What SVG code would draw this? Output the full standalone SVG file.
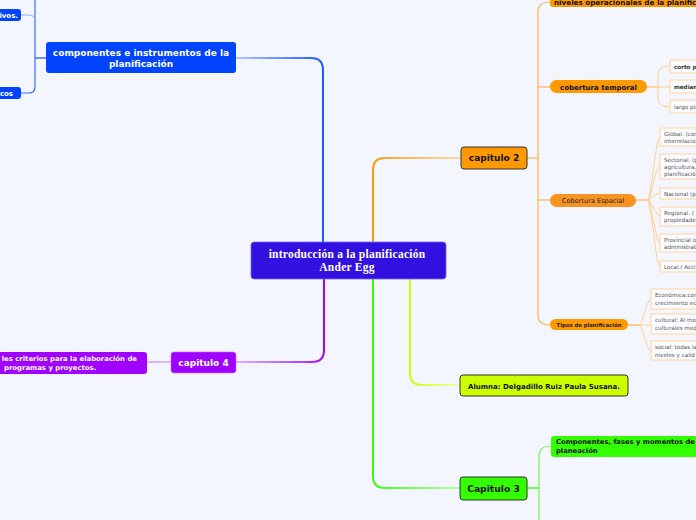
<svg xmlns="http://www.w3.org/2000/svg" width="696" height="520" viewBox="0 0 696 520">
<defs>
<style>
.s{font-family:"DejaVu Sans","Liberation Sans",sans-serif}
.b{font-weight:bold}
.c{text-anchor:middle}
.sub{fill:#fbfcff;stroke:#ffd49a;stroke-width:1}
.st{font-size:5.6px;fill:#555}
.fan{fill:none;stroke:#ffd08a;stroke-width:1}
.or{fill:none;stroke:#ffb44a;stroke-width:1.2}
</style>
<linearGradient id="gBlue" gradientUnits="userSpaceOnUse" x1="323" y1="0" x2="236" y2="0"><stop offset="0" stop-color="#1a5cff"/><stop offset="0.2" stop-color="#3a70ff"/><stop offset="1" stop-color="#b3c8ff"/></linearGradient>
<linearGradient id="gOr" gradientUnits="userSpaceOnUse" x1="373" y1="0" x2="461" y2="0"><stop offset="0" stop-color="#ff9900"/><stop offset="0.2" stop-color="#ffab3a"/><stop offset="1" stop-color="#ffd9a3"/></linearGradient>
<linearGradient id="gPu" gradientUnits="userSpaceOnUse" x1="324" y1="0" x2="236" y2="0"><stop offset="0" stop-color="#a000ff"/><stop offset="0.2" stop-color="#b53aff"/><stop offset="1" stop-color="#e0b0ff"/></linearGradient>
<linearGradient id="gGr" gradientUnits="userSpaceOnUse" x1="373" y1="0" x2="460" y2="0"><stop offset="0" stop-color="#33ff00"/><stop offset="0.2" stop-color="#55ff33"/><stop offset="1" stop-color="#b8ffa8"/></linearGradient>
<linearGradient id="gYe" gradientUnits="userSpaceOnUse" x1="410" y1="0" x2="460" y2="0"><stop offset="0" stop-color="#ccff00"/><stop offset="0.3" stop-color="#d8ff3a"/><stop offset="1" stop-color="#eeffb0"/></linearGradient>
</defs>
<rect width="696" height="520" fill="#f3f6fe"/>

<g id="connectors">
<path d="M323 242 V70 Q323 58 311 58 H236" fill="none" stroke="url(#gBlue)" stroke-width="2"/>
<path d="M373 242 V170 Q373 158 385 158 H461" fill="none" stroke="url(#gOr)" stroke-width="2"/>
<path d="M324 279 V350 Q324 362 312 362 H236" fill="none" stroke="url(#gPu)" stroke-width="2"/>
<path d="M373 279 V476 Q373 488 385 488 H460" fill="none" stroke="url(#gGr)" stroke-width="2"/>
<path d="M410 279 V373 Q410 385 422 385 H460" fill="none" stroke="url(#gYe)" stroke-width="2"/>
<path d="M46 58 H35" fill="none" stroke="#3a70ff" stroke-width="1.5"/>
<path d="M35 0 V87 Q35 93 29 93 H21" fill="none" stroke="#3a70ff" stroke-width="1.2"/>
<path d="M21 15 H29 Q35 15 35 21" fill="none" stroke="#8fb0ff" stroke-width="1.2"/>
<path d="M171 362 H147" fill="none" stroke="#c58aff" stroke-width="1.2"/>
<path d="M527 158 H538" class="or" stroke-width="1.5"/>
<path d="M550 2 Q538 2 538 12 V315 Q538 325 550 325" class="or"/>
<path d="M538 87 H550" class="or"/>
<path d="M538 200 H550" class="or"/>
<path d="M647 87 H658" fill="none" stroke="#ffbf66" stroke-width="1.2"/>
<path d="M670 66 Q658 66 658 74 V99 Q658 107 670 107" class="fan"/>
<path d="M658 87 H670" class="fan"/>
<path d="M636 200 H648" fill="none" stroke="#ffb44a" stroke-width="1.2"/>
<path d="M648 200 C652 190 656 137 660 137" class="fan"/>
<path d="M648 200 C652 194 656 166 660 166" class="fan"/>
<path d="M648 200 C652 198 656 193 660 193" class="fan"/>
<path d="M648 200 C652 202 656 216 660 216" class="fan"/>
<path d="M648 200 C652 206 656 243 660 243" class="fan"/>
<path d="M648 200 C652 210 656 266 660 266" class="fan"/>
<path d="M628 325 H640" fill="none" stroke="#ffb44a" stroke-width="1.2"/>
<path d="M640 325 C644 318 647 299 651 299" class="fan"/>
<path d="M640 325 H651" class="fan"/>
<path d="M640 325 C644 332 647 351 651 351" class="fan"/>
<path d="M527 488 H539" fill="none" stroke="#44ff11" stroke-width="1.5"/>
<path d="M551 446 Q539 446 539 456 V520" fill="none" stroke="#6cff44" stroke-width="1.2"/>
</g>

<g id="central">
<rect x="251" y="242" width="195" height="37" rx="3" fill="#3210e0" stroke="#7a66ff" stroke-width="0.8"/>
<text x="347" y="258" class="c" font-family="Liberation Serif,serif" font-weight="bold" font-size="11.5" letter-spacing="0.25" fill="#fff">introducción a la planificación</text>
<text x="347" y="270.5" class="c" font-family="Liberation Serif,serif" font-weight="bold" font-size="11.5" letter-spacing="0.25" fill="#fff">Ander Egg</text>
</g>

<g id="componentes">
<rect x="46" y="42" width="190" height="31" rx="3" fill="#0044ff"/>
<text x="141" y="56" class="s b c" font-size="9" fill="#fff">componentes e instrumentos de la</text>
<text x="141" y="67" class="s b c" font-size="9" fill="#fff">planificación</text>
</g>
<g id="objetivos">
<rect x="-20" y="9" width="41" height="12" rx="3" fill="#0044ff"/>
<text x="18" y="18" class="s b" font-size="7" fill="#fff" text-anchor="end">ivos.</text>
</g>
<g id="tecnicos">
<rect x="-20" y="87" width="41" height="12" rx="3" fill="#0044ff"/>
<text x="13" y="96" class="s b" font-size="7" fill="#fff" text-anchor="end">cos</text>
</g>

<g id="capitulo4">
<rect x="171" y="352" width="65" height="21" rx="3" fill="#a000ff" stroke="#c070ff" stroke-width="0.6"/>
<text x="203.5" y="366" class="s b c" font-size="9" fill="#fff">capitulo 4</text>
</g>
<g id="criterios">
<rect x="-40" y="352" width="187" height="22" rx="3" fill="#a000ff"/>
<text x="137" y="361" class="s b" font-size="6.9" fill="#fff" text-anchor="end">les criterios para la elaboración de</text>
<text x="4" y="370" class="s b" font-size="6.9" fill="#fff">programas y proyectos.</text>
</g>

<g id="capitulo2">
<rect x="461" y="147" width="66" height="22" rx="3" fill="#ff9900" stroke="#333" stroke-width="1"/>
<text x="494" y="161" class="s b c" font-size="9" fill="#111">capitulo 2</text>
</g>
<g id="niveles">
<rect x="550" y="-14" width="180" height="21" rx="3" fill="#ff9900"/>
<text x="554" y="4.5" class="s b" font-size="7.2" fill="#111">niveles operacionales de la planificación</text>
</g>
<g id="cobertura-temporal">
<rect x="550" y="80" width="97" height="13" rx="6.5" fill="#ff9900"/>
<text x="598.5" y="89.5" class="s b c" font-size="7" fill="#111">cobertura temporal</text>
</g>
<g id="corto">
<rect x="670" y="60" width="60" height="13" class="sub"/>
<text x="674" y="69" class="s b" font-size="5.6" fill="#333">corto plazo</text>
</g>
<g id="mediano">
<rect x="670" y="80" width="60" height="13" class="sub"/>
<text x="674" y="89" class="s b" font-size="5.6" fill="#333">mediano plazo</text>
</g>
<g id="largo">
<rect x="670" y="100" width="60" height="13" class="sub"/>
<text x="674" y="109" class="s" font-size="5.6" fill="#555">largo plazo</text>
</g>

<g id="cobertura-espacial">
<rect x="550" y="194" width="86" height="13" rx="6.5" fill="#f7931e"/>
<text x="593" y="203" class="s c" font-size="6.6" fill="#222">Cobertura Espacial</text>
</g>
<g id="global">
<rect x="660" y="128" width="60" height="18" class="sub"/>
<text x="664" y="136" class="s st">Global. (con</text>
<text x="664" y="143" class="s st">interrelacio</text>
</g>
<g id="sectorial">
<rect x="660" y="154" width="60" height="25" class="sub"/>
<text x="664" y="162" class="s st">Sectorial. (p</text>
<text x="664" y="169" class="s st">agricultura,</text>
<text x="664" y="176" class="s st">planificació</text>
</g>
<g id="nacional">
<rect x="660" y="188" width="60" height="11" class="sub"/>
<text x="664" y="195.5" class="s st">Nacional (p</text>
</g>
<g id="regional">
<rect x="660" y="207" width="60" height="19" class="sub"/>
<text x="664" y="215" class="s st">Regional. (</text>
<text x="664" y="222" class="s st">propiedade</text>
</g>
<g id="provincial">
<rect x="660" y="234" width="60" height="18" class="sub"/>
<text x="664" y="242" class="s st">Provincial o</text>
<text x="664" y="249" class="s st">administrat</text>
</g>
<g id="local">
<rect x="660" y="261" width="60" height="11" class="sub"/>
<text x="664" y="268.5" class="s st">Local.( Acci</text>
</g>

<g id="tipos">
<rect x="550" y="319" width="78" height="11" rx="5.5" fill="#ff9900"/>
<text x="589" y="327" class="s b c" font-size="5.3" fill="#222">Tipos de planificación</text>
</g>
<g id="economica">
<rect x="651" y="289" width="60" height="20" class="sub"/>
<text x="655" y="297" class="s st">Económica:con</text>
<text x="655" y="305" class="s st">crecimiento ec</text>
</g>
<g id="cultural">
<rect x="651" y="314" width="60" height="20" class="sub"/>
<text x="655" y="322" class="s st">cultural: Al mo</text>
<text x="655" y="330" class="s st">culturales med</text>
</g>
<g id="social">
<rect x="651" y="341" width="60" height="19" class="sub"/>
<text x="655" y="349" class="s st">social: todas la</text>
<text x="655" y="357" class="s st">niveles y calid</text>
</g>

<g id="alumna">
<rect x="460" y="375" width="168" height="21" rx="3" fill="#ccff00" stroke="#333" stroke-width="1"/>
<text x="544" y="388.5" class="s b c" font-size="7" fill="#111">Alumna: Delgadillo Ruiz Paula Susana.</text>
</g>

<g id="capitulo3">
<rect x="460" y="477" width="67" height="23" rx="3" fill="#33ff00" stroke="#333" stroke-width="1"/>
<text x="493.5" y="492" class="s b c" font-size="9.2" fill="#111">Capitulo 3</text>
</g>
<g id="componentes-fases">
<rect x="551" y="436" width="180" height="21" rx="3" fill="#33ff00"/>
<text x="556" y="444" class="s b" font-size="6.8" fill="#111">Componentes, fases y momentos de</text>
<text x="556" y="453" class="s b" font-size="6.8" fill="#111">planeación</text>
</g>
</svg>
